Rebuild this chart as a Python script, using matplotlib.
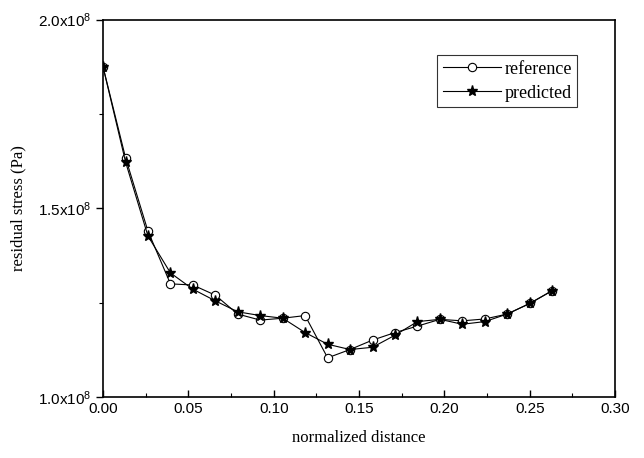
import matplotlib
matplotlib.use("Agg")
import matplotlib.pyplot as plt
from matplotlib.ticker import MultipleLocator

x = [0.0, 0.0132, 0.0263, 0.0395, 0.0526, 0.0658, 0.0789, 0.0921, 0.1053, 0.1184,
     0.1316, 0.1447, 0.1579, 0.1711, 0.1842, 0.1974, 0.2105, 0.2237, 0.2368, 0.25, 0.2632]
reference = [1.875, 1.634, 1.440, 1.300, 1.297, 1.270, 1.220, 1.204, 1.209, 1.216,
             1.104, 1.126, 1.151, 1.171, 1.188, 1.206, 1.202, 1.207, 1.220, 1.248, 1.282]
predicted = [1.875, 1.623, 1.427, 1.329, 1.286, 1.255, 1.226, 1.216, 1.209, 1.171,
             1.140, 1.126, 1.132, 1.164, 1.200, 1.206, 1.193, 1.200, 1.220, 1.248, 1.282]
reference = [v * 1e8 for v in reference]
predicted = [v * 1e8 for v in predicted]

xticks = [0.00, 0.05, 0.10, 0.15, 0.20, 0.25, 0.30]
xticklabels = ["0.00", "0.05", "0.10", "0.15", "0.20", "0.25", "0.30"]
yticks = [1.0e8, 1.5e8, 2.0e8]
yticklabels = [r"1.0x10$^{8}$", r"1.5x10$^{8}$", r"2.0x10$^{8}$"]

plt.rcParams["mathtext.fontset"] = "custom"
plt.rcParams["mathtext.rm"] = "Liberation Sans"
plt.rcParams["mathtext.it"] = "Liberation Sans"
plt.rcParams["mathtext.default"] = "rm"

fig = plt.figure(figsize=(6.44, 4.58), dpi=100)
ax = fig.add_axes([0.160, 0.133, 0.795, 0.824])

ax.plot(x, reference, color="black", lw=0.8, marker="o", ms=6,
        mfc="white", mec="black", mew=0.8, label="reference")
ax.plot(x, predicted, color="black", lw=0.8, marker="*", ms=8,
        mfc="black", mec="black", label="predicted")

ax.set_xlim(0, 0.30)
ax.set_ylim(1.0e8, 2.0e8)
ax.set_xticks(xticks)
ax.set_xticklabels(xticklabels, family="Liberation Sans", fontsize=11)
ax.set_yticks(yticks)
ax.set_yticklabels(yticklabels, family="Liberation Sans", fontsize=11)
ax.xaxis.set_minor_locator(MultipleLocator(0.025))
ax.yaxis.set_minor_locator(MultipleLocator(0.25e8))
ax.tick_params(axis="x", which="both", direction="in")
ax.tick_params(axis="y", which="both", direction="out")
ax.tick_params(which="major", length=5, width=1)
ax.tick_params(which="minor", length=3, width=0.8)
for s in ax.spines.values():
    s.set_linewidth(1.2)

ax.set_xlabel("normalized distance", family="Liberation Serif", fontsize=12, labelpad=10)
ax.set_ylabel("residual stress (Pa)", family="Liberation Serif", fontsize=12, labelpad=8)

leg = ax.legend(loc="upper right", bbox_to_anchor=(0.926, 0.906),
                prop={"family": "Liberation Serif", "size": 13},
                frameon=True, fancybox=False, edgecolor="black", borderaxespad=0,
                handlelength=3.2, borderpad=0.3, labelspacing=0.4, handletextpad=0.2)
leg.get_frame().set_linewidth(0.8)

fig.savefig("out.png", dpi=100)
